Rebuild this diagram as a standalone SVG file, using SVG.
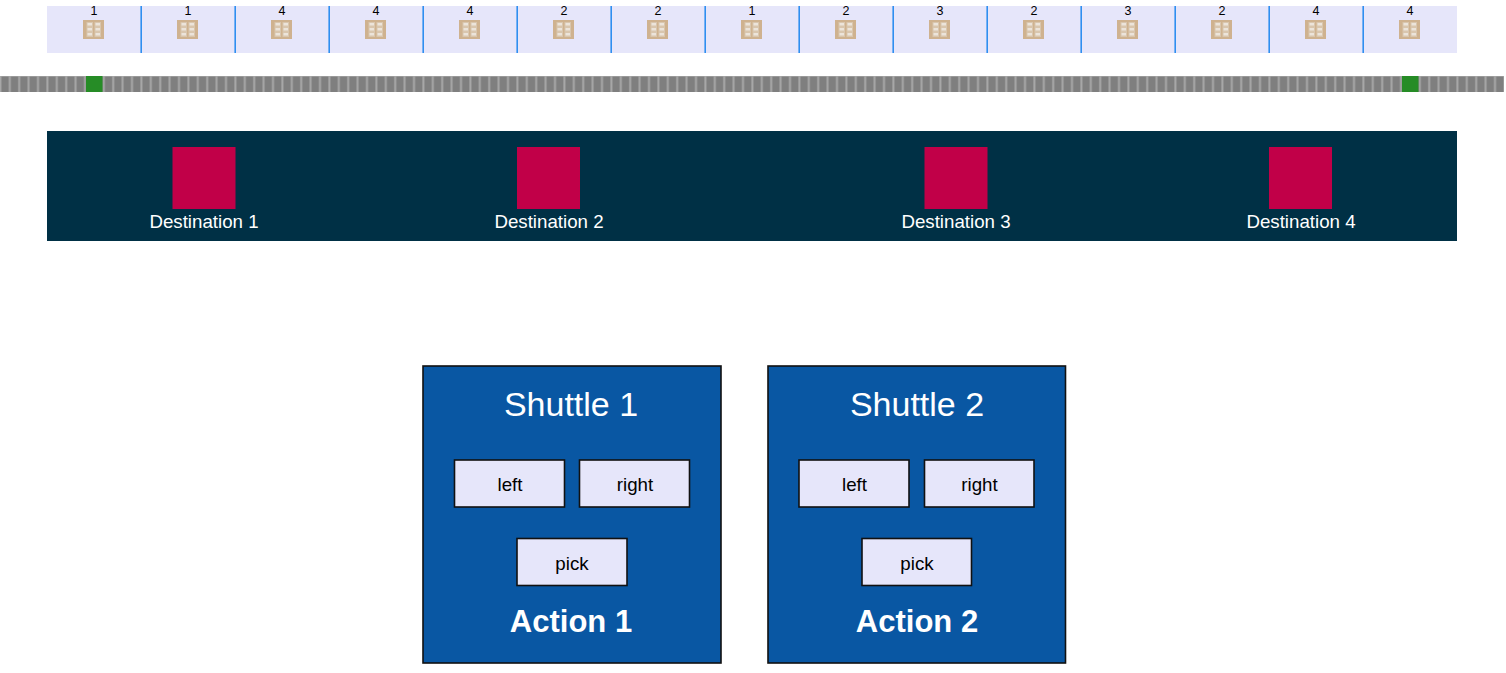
<svg xmlns="http://www.w3.org/2000/svg" width="1506" height="673" viewBox="0 0 1506 673">
<style>
text{font-family:"Liberation Sans",Arial,sans-serif;text-anchor:middle}
.cnt{font-size:12.500px;fill:#000}
.div{stroke:#2f8ff0;stroke-width:1.6;fill:none}
.dest{fill:#c10048}
.dl{font-size:18.720px;fill:#fff}
.sh{fill:#0957a3;stroke:#111;stroke-width:1.6}
.st{font-size:34px;fill:#fff}
.at{font-size:31px;font-weight:bold;fill:#fff}
.btn{fill:#e6e6fa;stroke:#111;stroke-width:1.6}
.bt{font-size:18.720px;fill:#000}
</style>
<defs>
<pattern id="cells" x="0" y="76" width="9.4" height="16" patternUnits="userSpaceOnUse">
<rect width="9.4" height="16" fill="#a8a8a8"/>
<rect x="1.4" y="0.6" width="7.400" height="15.400" fill="#7f7f7f"/>
</pattern>
<g id="bldg">
<rect x="-10.500" y="-9.500" width="21" height="19" fill="#cfb28f"/>
<g fill="#d9c6ae">
<rect x="-7" y="-7.500" width="6.500" height="15"/><rect x="1" y="-7.500" width="6.500" height="15"/>
</g>
<g fill="#ece4da">
<rect x="-6" y="-6.500" width="4.500" height="2.500"/><rect x="2" y="-6.500" width="4.500" height="2.500"/>
<rect x="-6" y="-1.500" width="4.500" height="2.500"/><rect x="2" y="-1.500" width="4.500" height="2.500"/>
<rect x="-6" y="3.500" width="4.500" height="2.500"/><rect x="2" y="3.500" width="4.500" height="2.500"/>
</g>
</g>
</defs>
<rect width="1506" height="673" fill="#fff"/>
<g id="storage">
<rect x="47" y="6" width="1410" height="47" fill="#e6e6fa"/>
<path class="div" d="M141.200 6V53M235.200 6V53M329.200 6V53M423.200 6V53M517.200 6V53M611.200 6V53M705.200 6V53M799.200 6V53M893.200 6V53M987.200 6V53M1081.200 6V53M1175.200 6V53M1269.200 6V53M1363.200 6V53"/>
<text x="94" y="15" class="cnt">1</text><text x="188" y="15" class="cnt">1</text><text x="282" y="15" class="cnt">4</text><text x="376" y="15" class="cnt">4</text><text x="470" y="15" class="cnt">4</text><text x="564" y="15" class="cnt">2</text><text x="658" y="15" class="cnt">2</text><text x="752" y="15" class="cnt">1</text><text x="846" y="15" class="cnt">2</text><text x="940" y="15" class="cnt">3</text><text x="1034" y="15" class="cnt">2</text><text x="1128" y="15" class="cnt">3</text><text x="1222" y="15" class="cnt">2</text><text x="1316" y="15" class="cnt">4</text><text x="1410" y="15" class="cnt">4</text>
<use href="#bldg" x="93.500" y="29.500"/><use href="#bldg" x="187.500" y="29.500"/><use href="#bldg" x="281.500" y="29.500"/><use href="#bldg" x="375.500" y="29.500"/><use href="#bldg" x="469.500" y="29.500"/><use href="#bldg" x="563.500" y="29.500"/><use href="#bldg" x="657.500" y="29.500"/><use href="#bldg" x="751.500" y="29.500"/><use href="#bldg" x="845.500" y="29.500"/><use href="#bldg" x="939.500" y="29.500"/><use href="#bldg" x="1033.500" y="29.500"/><use href="#bldg" x="1127.500" y="29.500"/><use href="#bldg" x="1221.500" y="29.500"/><use href="#bldg" x="1315.500" y="29.500"/><use href="#bldg" x="1409.500" y="29.500"/>
</g>
<g id="track">
<rect x="0" y="76" width="1504" height="16" fill="url(#cells)"/>
<rect x="86" y="76" width="16.500" height="16" fill="#268c26"/>
<rect x="1402" y="76" width="16.500" height="16" fill="#268c26"/>
</g>
<g id="destinations">
<rect x="47" y="131" width="1410" height="110" fill="#003045"/>
<g id="dest1"><rect class="dest" x="172.500" y="147" width="63" height="62"/><text class="dl" x="204" y="228">Destination 1</text></g>
<g id="dest2"><rect class="dest" x="517" y="147" width="63" height="62"/><text class="dl" x="549" y="228">Destination 2</text></g>
<g id="dest3"><rect class="dest" x="924.500" y="147" width="63" height="62"/><text class="dl" x="956" y="228">Destination 3</text></g>
<g id="dest4"><rect class="dest" x="1269" y="147" width="63" height="62"/><text class="dl" x="1301" y="228">Destination 4</text></g>
</g>
<g id="shuttle1">
<rect class="sh" x="423" y="366" width="298" height="297"/>
<text class="st" x="571" y="416">Shuttle 1</text>
<rect class="btn" x="454.500" y="460" width="110" height="47"/><text class="bt" x="510" y="491">left</text>
<rect class="btn" x="579.500" y="460" width="110" height="47"/><text class="bt" x="635" y="491">right</text>
<rect class="btn" x="517" y="538.500" width="110" height="47"/><text class="bt" x="572" y="570">pick</text>
<text class="at" x="571" y="632">Action 1</text>
</g>
<g id="shuttle2">
<rect class="sh" x="768" y="366" width="297.500" height="297"/>
<text class="st" x="917" y="416">Shuttle 2</text>
<rect class="btn" x="799" y="460" width="110" height="47"/><text class="bt" x="854.500" y="491">left</text>
<rect class="btn" x="924.500" y="460" width="109.500" height="47"/><text class="bt" x="979.500" y="491">right</text>
<rect class="btn" x="862" y="538.500" width="109.500" height="47"/><text class="bt" x="917" y="570">pick</text>
<text class="at" x="917" y="632">Action 2</text>
</g>
<g id="connectors"/>
</svg>
